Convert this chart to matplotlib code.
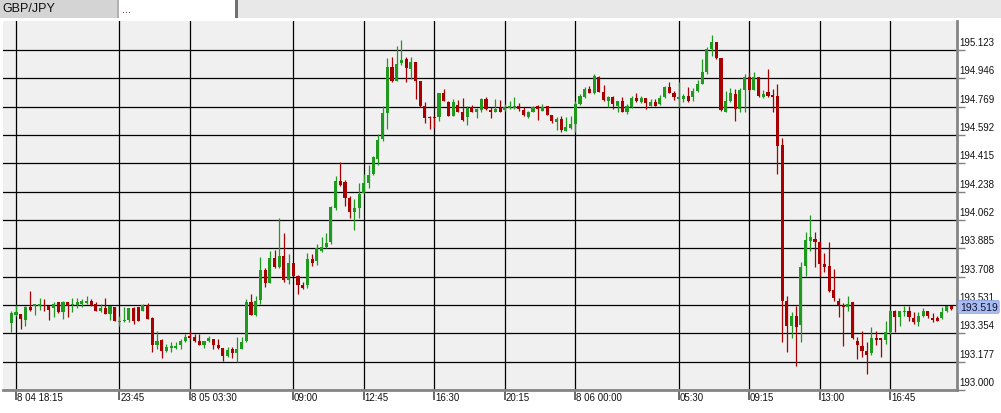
"""GBP/JPY 15-minute candlestick chart."""
import matplotlib
matplotlib.use("Agg")
import matplotlib.pyplot as plt
from matplotlib.patches import Rectangle

# OHLC per 15-min candle, first candle = 8 04 18:00
opens = [
    193.419, 193.471, 193.475, 193.440, 193.521, 193.527, 193.523, 193.533, 193.527, 193.510,
    193.548, 193.490, 193.552, 193.531, 193.531, 193.540, 193.544, 193.558, 193.540, 193.496,
    193.513, 193.477, 193.521, 193.423, 193.429, 193.440, 193.513, 193.517, 193.496, 193.529,
    193.448, 193.282, 193.315, 193.246, 193.263, 193.263, 193.278, 193.303, 193.340, 193.330,
    193.309, 193.282, 193.303, 193.319, 193.282, 193.263, 193.211, 193.253, 193.228, 193.257,
    193.303, 193.548, 193.471, 193.564, 193.750, 193.669, 193.825, 193.766, 193.835, 193.689,
    193.793, 193.710, 193.656, 193.656, 193.818, 193.808, 193.868, 193.891, 193.922, 194.137,
    194.304, 194.297, 194.197, 194.114, 194.135, 194.231, 194.293, 194.349, 194.443, 194.570,
    194.730, 195.015, 194.932, 195.040, 195.067, 195.005, 195.050, 194.932, 194.771, 194.705,
    194.705, 194.703, 194.853, 194.801, 194.713, 194.780, 194.738, 194.703, 194.769, 194.734,
    194.751, 194.817, 194.751, 194.738, 194.761, 194.749, 194.759, 194.759, 194.776, 194.751,
    194.703, 194.738, 194.776, 194.744, 194.771, 194.717, 194.672, 194.695, 194.619, 194.634,
    194.661, 194.786, 194.828, 194.880, 194.855, 194.957, 194.863, 194.807, 194.828, 194.771,
    194.807, 194.734, 194.765, 194.821, 194.801, 194.821, 194.771, 194.801, 194.786, 194.828,
    194.890, 194.855, 194.817, 194.817, 194.838, 194.828, 194.869, 194.911, 194.988, 195.130,
    195.171, 195.071, 194.738, 194.807, 194.849, 194.755, 194.876, 194.953, 194.876, 194.953,
    194.828, 194.859, 194.842, 194.834, 194.530, 193.553, 193.401, 193.460, 193.408, 193.776,
    193.932, 193.943, 193.926, 193.787, 193.776, 193.624, 193.558, 193.530, 193.516, 193.547,
    193.304, 193.277, 193.241, 193.231, 193.322, 193.322, 193.312, 193.364, 193.495, 193.453,
    193.485, 193.495, 193.447, 193.426, 193.464, 193.491, 193.447, 193.447, 193.447, 193.495,
    193.522,
]
highs = [
    193.496, 193.531, 193.475, 193.527, 193.619, 193.540, 193.573, 193.569, 193.527, 193.552,
    193.552, 193.558, 193.552, 193.573, 193.573, 193.569, 193.585, 193.569, 193.548, 193.538,
    193.575, 193.523, 193.521, 193.465, 193.517, 193.513, 193.517, 193.517, 193.540, 193.544,
    193.454, 193.371, 193.319, 193.288, 193.298, 193.298, 193.319, 193.350, 193.371, 193.350,
    193.350, 193.309, 193.340, 193.319, 193.319, 193.263, 193.267, 193.267, 193.330, 193.330,
    193.569, 193.600, 193.590, 193.829, 193.760, 193.870, 193.877, 194.072, 193.981, 193.850,
    193.793, 193.718, 193.673, 193.856, 193.850, 193.912, 193.954, 193.981, 194.147, 194.339,
    194.426, 194.314, 194.210, 194.193, 194.293, 194.349, 194.406, 194.459, 194.599, 194.776,
    195.071, 195.078, 195.150, 195.188, 195.077, 195.078, 195.050, 194.932, 194.801, 194.709,
    194.709, 194.853, 194.880, 194.807, 194.817, 194.813, 194.824, 194.771, 194.780, 194.759,
    194.821, 194.828, 194.765, 194.817, 194.813, 194.786, 194.807, 194.828, 194.792, 194.765,
    194.744, 194.776, 194.780, 194.786, 194.776, 194.719, 194.703, 194.709, 194.703, 194.709,
    194.807, 194.849, 194.890, 194.896, 194.973, 194.963, 194.905, 194.838, 194.838, 194.807,
    194.828, 194.786, 194.838, 194.855, 194.838, 194.821, 194.817, 194.817, 194.842, 194.901,
    194.921, 194.869, 194.921, 194.849, 194.894, 194.884, 194.938, 195.067, 195.140, 195.219,
    195.175, 195.071, 194.869, 194.884, 194.880, 194.884, 194.973, 194.984, 194.984, 194.953,
    194.876, 195.005, 194.880, 194.911, 194.574, 193.585, 193.485, 193.526, 193.797, 193.984,
    194.093, 193.984, 193.926, 193.855, 193.926, 193.755, 193.572, 193.543, 193.589, 193.551,
    193.329, 193.370, 193.297, 193.395, 193.370, 193.322, 193.433, 193.501, 193.501, 193.495,
    193.526, 193.526, 193.485, 193.489, 193.510, 193.495, 193.480, 193.464, 193.516, 193.526,
    193.526,
]
lows = [
    193.361, 193.465, 193.382, 193.402, 193.496, 193.471, 193.502, 193.496, 193.440, 193.454,
    193.481, 193.444, 193.458, 193.490, 193.510, 193.519, 193.540, 193.527, 193.494, 193.490,
    193.475, 193.440, 193.429, 193.402, 193.423, 193.423, 193.413, 193.429, 193.496, 193.444,
    193.236, 193.257, 193.199, 193.236, 193.236, 193.257, 193.257, 193.298, 193.319, 193.298,
    193.278, 193.261, 193.298, 193.257, 193.257, 193.184, 193.205, 193.199, 193.174, 193.257,
    193.298, 193.471, 193.465, 193.537, 193.641, 193.669, 193.760, 193.760, 193.677, 193.662,
    193.710, 193.600, 193.631, 193.635, 193.773, 193.781, 193.864, 193.885, 193.910, 194.127,
    194.272, 194.152, 194.072, 194.002, 194.072, 194.231, 194.260, 194.343, 194.407, 194.555,
    194.630, 194.922, 194.932, 195.030, 194.922, 194.942, 194.817, 194.765, 194.667, 194.630,
    194.634, 194.682, 194.807, 194.713, 194.709, 194.734, 194.682, 194.655, 194.734, 194.697,
    194.734, 194.751, 194.697, 194.734, 194.734, 194.744, 194.755, 194.755, 194.744, 194.709,
    194.697, 194.734, 194.688, 194.744, 194.717, 194.667, 194.626, 194.609, 194.619, 194.630,
    194.609, 194.780, 194.821, 194.855, 194.849, 194.859, 194.807, 194.765, 194.755, 194.734,
    194.734, 194.724, 194.759, 194.801, 194.792, 194.755, 194.771, 194.771, 194.780, 194.821,
    194.855, 194.813, 194.765, 194.801, 194.801, 194.807, 194.859, 194.911, 194.973, 195.088,
    195.067, 194.744, 194.734, 194.796, 194.682, 194.734, 194.734, 194.869, 194.876, 194.828,
    194.821, 194.828, 194.738, 194.349, 193.301, 193.235, 193.322, 193.147, 193.297, 193.714,
    193.870, 193.766, 193.714, 193.735, 193.614, 193.558, 193.453, 193.277, 193.495, 193.318,
    193.193, 193.204, 193.099, 193.218, 193.281, 193.208, 193.287, 193.349, 193.360, 193.401,
    193.464, 193.433, 193.412, 193.401, 193.453, 193.447, 193.426, 193.433, 193.443, 193.489,
    193.501,
]
closes = [
    193.479, 193.490, 193.444, 193.517, 193.502, 193.540, 193.540, 193.523, 193.502, 193.540,
    193.490, 193.552, 193.527, 193.540, 193.552, 193.558, 193.556, 193.531, 193.496, 193.513,
    193.477, 193.523, 193.431, 193.434, 193.438, 193.513, 193.429, 193.434, 193.531, 193.444,
    193.284, 193.309, 193.246, 193.271, 193.269, 193.269, 193.303, 193.330, 193.323, 193.303,
    193.282, 193.305, 193.325, 193.284, 193.261, 193.211, 193.251, 193.228, 193.257, 193.298,
    193.548, 193.471, 193.558, 193.750, 193.669, 193.825, 193.766, 193.835, 193.689, 193.793,
    193.710, 193.656, 193.635, 193.818, 193.793, 193.885, 193.893, 193.918, 194.141, 194.304,
    194.281, 194.197, 194.114, 194.137, 194.224, 194.293, 194.343, 194.453, 194.563, 194.730,
    195.015, 194.932, 195.036, 195.061, 195.009, 195.050, 194.932, 194.771, 194.697, 194.697,
    194.697, 194.853, 194.807, 194.713, 194.801, 194.738, 194.688, 194.761, 194.738, 194.755,
    194.817, 194.755, 194.734, 194.755, 194.734, 194.769, 194.772, 194.776, 194.755, 194.719,
    194.734, 194.769, 194.755, 194.769, 194.717, 194.682, 194.692, 194.626, 194.644, 194.661,
    194.786, 194.838, 194.880, 194.855, 194.963, 194.859, 194.813, 194.828, 194.786, 194.807,
    194.734, 194.776, 194.821, 194.807, 194.824, 194.792, 194.801, 194.771, 194.821, 194.890,
    194.855, 194.828, 194.828, 194.838, 194.807, 194.869, 194.911, 194.988, 195.130, 195.175,
    195.071, 194.751, 194.807, 194.855, 194.755, 194.876, 194.953, 194.876, 194.953, 194.838,
    194.849, 194.834, 194.828, 194.526, 193.558, 193.401, 193.460, 193.395, 193.766, 193.936,
    193.953, 193.926, 193.787, 193.766, 193.620, 193.572, 193.530, 193.516, 193.537, 193.322,
    193.283, 193.245, 193.220, 193.324, 193.312, 193.312, 193.360, 193.495, 193.453, 193.491,
    193.495, 193.453, 193.426, 193.464, 193.491, 193.460, 193.439, 193.433, 193.485, 193.522,
    193.505,
]

price_ticks = [193.000, 193.177, 193.354, 193.531, 193.708, 193.885, 194.062,
               194.238, 194.415, 194.592, 194.769, 194.946, 195.123]
time_tick_idx = [1, 23, 38, 60, 75, 90, 105, 120, 142, 157, 172, 187]
time_tick_labels = ["8 04 18:15", "23:45", "8 05 03:30", "09:00", "12:45", "16:30",
                    "20:15", "8 06 00:00", "05:30", "09:15", "13:00", "16:45"]
last_price = 193.519

W, H = 1001, 414
UP = "#1f9a1f"
DOWN = "#a80000"

fig = plt.figure(figsize=(W / 100, H / 100), dpi=100, facecolor="white")


def fig_rect(x, y, w, h, color, **kw):
    # rectangle in pixel coords measured from top-left
    fig.add_artist(Rectangle((x / W, 1 - (y + h) / H), w / W, h / H,
                             transform=fig.transFigure, facecolor=color,
                             edgecolor="none", **kw))


# header strip
fig_rect(0, 0, W, 19, "#e8e8e8")
fig_rect(0, 0, 118, 19, "#d4d4d4")
fig_rect(118, 0, 117, 19, "white")
fig_rect(117, 0, 1.5, 19, "#b0b0b0")
fig_rect(235, 0, 2.5, 19, "#707070")
fig.text(2 / W, 1 - 9.5 / H, "GBP/JPY", fontsize=9, family="Liberation Sans",
         va="center", ha="left", color="#111111")
fig.text(122 / W, 1 - 10 / H, "...", fontsize=7, va="center", ha="left",
         color="#552222")

ax = fig.add_axes([3 / W, (H - 391) / H, 954 / W, 369 / H])
ax.set_facecolor("#f0f0f0")

px = 0.006245  # price per pixel
ax.set_ylim(193.0, 193.0 + 369 * px)
ax.set_xlim((3 - 11.3) / 4.70, (957 - 11.3) / 4.70)

# grid
for p in price_ticks:
    ax.axhline(p, color="black", lw=0.9, zorder=1)
for i in time_tick_idx:
    ax.axvline(i, color="black", lw=0.9, zorder=1)

# candles
idx = list(range(len(opens)))
for i in idx:
    o, h, l, c = opens[i], highs[i], lows[i], closes[i]
    col = UP if c >= o else DOWN
    ax.vlines(i, l, h, color=col, lw=0.9, zorder=3)
    lo = min(o, c)
    hgt = max(abs(c - o), 0.009)
    ax.bar(i, hgt, bottom=lo, width=0.66, color=col, linewidth=0, zorder=4)

for s in ["top", "left"]:
    ax.spines[s].set_visible(False)
for s in ["right", "bottom"]:
    ax.spines[s].set_color("#858585")
    ax.spines[s].set_linewidth(2)

ax.yaxis.tick_right()
ax.set_yticks(price_ticks)
ax.tick_params(axis="y", right=True, left=False, length=6, width=1,
               color="#808080", labelright=False)
ax.set_xticks(time_tick_idx)
ax.tick_params(axis="x", bottom=True, length=7, width=1.2, color="#505050",
               labelbottom=False)

for p in price_ticks:
    ax.annotate(f"{p:.3f}", xy=(1, p), xycoords=("axes fraction", "data"),
                xytext=(1.5, 2.2), textcoords="offset points", ha="left",
                va="bottom", fontsize=7, family="Liberation Sans", color="#111111",
                annotation_clip=False)

for i, lab in zip(time_tick_idx, time_tick_labels):
    ax.annotate(lab, xy=(i, 0), xycoords=("data", "axes fraction"),
                xytext=(0.5, -1.5), textcoords="offset points", ha="left",
                va="top", fontsize=7, family="Liberation Sans", color="#111111",
                annotation_clip=False)

ax.annotate(f"{last_price:.3f}", xy=(1, last_price),
            xycoords=("axes fraction", "data"), xytext=(2, 0),
            textcoords="offset points", ha="left", va="center", fontsize=7.5,
            family="Liberation Sans", color="#101030", annotation_clip=False,
            bbox=dict(boxstyle="round,pad=0.15", facecolor="#a9bcf0",
                      edgecolor="#8ea4e6", lw=0.5))

fig.savefig("out.png", dpi=100, facecolor="white")
